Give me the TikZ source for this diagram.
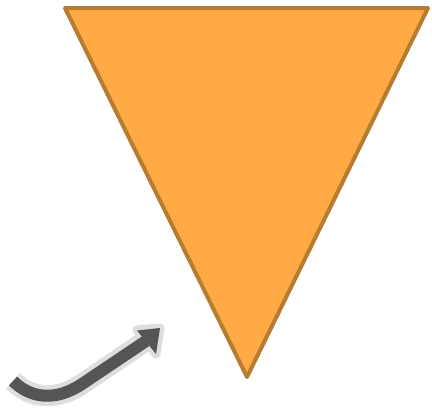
\documentclass[tikz,border=0pt]{standalone}
\definecolor{trifill}{RGB}{255,170,68}
\definecolor{tridraw}{RGB}{184,124,48}
\definecolor{arrdark}{RGB}{85,85,85}
\definecolor{arrlight}{RGB}{222,222,222}
\begin{document}
\begin{tikzpicture}[x=1pt,y=-1pt]
\useasboundingbox (0,0) rectangle (432,413);
\draw[line width=4pt, line join=round, draw=tridraw, fill=trifill] (65,8) -- (428,8) -- (247,377) -- cycle;
% arrow outline
\draw[arrlight, line width=21pt, line join=round] (13,381) .. controls (30,398) and (55,402) .. (82,384) -- (147,340);
\fill[arrlight, line join=round, draw=arrlight, line width=9pt] (137,330) -- (160,328) -- (156,354) -- cycle;
% arrow body
\draw[arrdark, line width=12pt] (13,381) .. controls (30,398) and (55,402) .. (82,384) -- (146,341);
\fill[arrdark] (137,330.5) -- (160,328) -- (156,354) -- cycle;
\end{tikzpicture}
\end{document}
